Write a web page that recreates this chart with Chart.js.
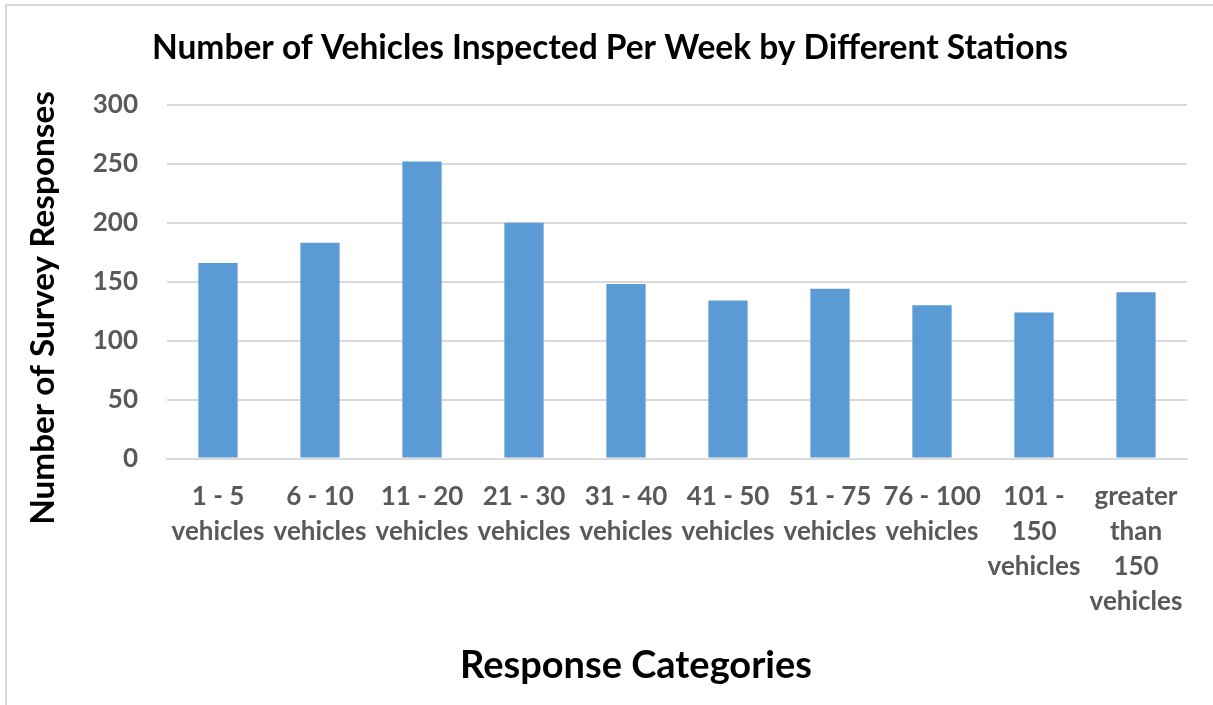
<!DOCTYPE html>
<html>
<head>
<meta charset="utf-8">
<script src="https://cdn.jsdelivr.net/npm/chart.js@4/dist/chart.umd.min.js"></script>
<style>
  html, body { margin: 0; padding: 0; background: #ffffff; }
  #wrap { position: relative; width: 1213px; height: 705px; overflow: hidden; }
  #frame { position: absolute; left: 5px; top: 4px; width: 1210px; height: 705px;
           border-top: 2px solid #d9d9d9; border-left: 2px solid #d9d9d9; box-sizing: border-box; }
  #chart { position: absolute; left: 0; top: 0; }
</style>
</head>
<body>
<div id="wrap">
  <div id="frame"></div>
  <canvas id="chart" width="1213" height="705"></canvas>
</div>
<script>
// Survey results: weekly vehicle inspections per station
const categories = [
  ["1 - 5", "vehicles"],
  ["6 - 10", "vehicles"],
  ["11 - 20", "vehicles"],
  ["21 - 30", "vehicles"],
  ["31 - 40", "vehicles"],
  ["41 - 50", "vehicles"],
  ["51 - 75", "vehicles"],
  ["76 - 100", "vehicles"],
  ["101 -", "150", "vehicles"],
  ["greater", "than", "150", "vehicles"]
];
const responses = [166, 183, 252, 200, 148, 134, 144, 130, 124, 141];
const yTicks = [0, 50, 100, 150, 200, 250, 300];

const chartTitle = "Number of Vehicles Inspected Per Week by Different Stations";
const xTitle = "Response Categories";
const yTitle = "Number of Survey Responses";

const FONT = "Lato, 'Open Sans', sans-serif";

// Axis titles are placed relative to the whole canvas, not the plot area
const axisTitles = {
  id: "axisTitles",
  afterDraw(chart) {
    const ctx = chart.ctx;
    ctx.save();
    ctx.fillStyle = "#000000";
    ctx.textAlign = "center";
    ctx.textBaseline = "middle";
    ctx.font = "bold 38px " + FONT;
    ctx.fillText(xTitle, 636, 666);
    ctx.translate(43, 308);
    ctx.rotate(-Math.PI / 2);
    ctx.font = "bold 33.3px " + FONT;
    ctx.fillText(yTitle, 0, 0);
    ctx.restore();
  }
};

new Chart(document.getElementById("chart"), {
  type: "bar",
  data: {
    labels: categories,
    datasets: [{
      data: responses,
      backgroundColor: "#5b9bd5",
      borderWidth: 0,
      categoryPercentage: 1.0,
      barPercentage: 0.385
    }]
  },
  plugins: [axisTitles],
  options: {
    responsive: false,
    animation: false,
    layout: { padding: { left: 33, right: 26, top: 28, bottom: 8 } },
    plugins: {
      legend: { display: false },
      tooltip: { enabled: false },
      title: {
        display: true,
        text: chartTitle,
        color: "#000000",
        font: { family: FONT, size: 33.5, weight: "bold", lineHeight: 1.2 },
        padding: { top: 0, bottom: 36.8 }
      }
    },
    scales: {
      x: {
        afterFit: (scale) => { scale.height = 705 - 8 - 458.5; },
        grid: { display: false, drawTicks: false },
        border: { display: true, color: "#d9d9d9", width: 2 },
        ticks: {
          color: "#595959",
          font: { family: FONT, size: 26, weight: "bold", lineHeight: 1.346 },
          padding: 21,
          maxRotation: 0,
          autoSkip: false
        }
      },
      y: {
        min: 0,
        max: 300,
        afterBuildTicks: (scale) => { scale.ticks = yTicks.map(v => ({ value: v })); },
        afterFit: (scale) => { scale.width = 167 - 33; },
        grid: { color: "#d9d9d9", lineWidth: 2, drawTicks: false },
        border: { display: false },
        ticks: {
          color: "#595959",
          font: { family: FONT, size: 26, weight: "bold" },
          padding: 29
        }
      }
    }
  }
});
</script>
</body>
</html>
